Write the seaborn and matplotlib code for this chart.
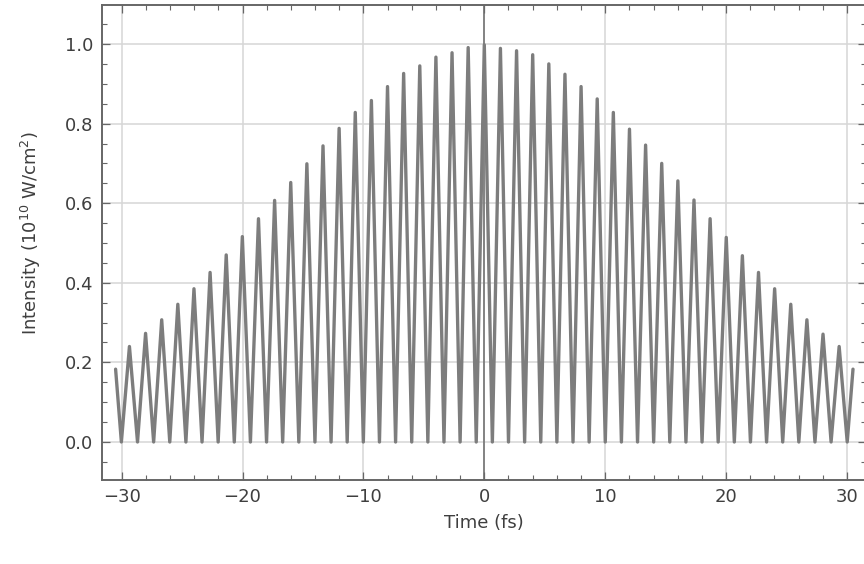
import numpy as np
import pandas as pd
import matplotlib
matplotlib.use("Agg")
import matplotlib.pyplot as plt
from matplotlib.ticker import MultipleLocator
import seaborn as sns

# ---- data ----
peak_times = [-29.355, -28.020, -26.686, -25.352, -24.017, -22.683, -21.349, -20.015,
              -18.680, -17.346, -16.012, -14.677, -13.343, -12.009, -10.674, -9.340,
              -8.006, -6.672, -5.337, -4.003, -2.669, -1.334, 0.0,
              1.334, 2.669, 4.003, 5.337, 6.672, 8.006, 9.340, 10.674, 12.009,
              13.343, 14.677, 16.012, 17.346, 18.680, 20.015, 21.349, 22.683,
              24.017, 25.352, 26.686, 28.020, 29.355]
peak_values = [0.240, 0.273, 0.307, 0.346, 0.385, 0.426, 0.470, 0.516,
               0.561, 0.607, 0.652, 0.699, 0.744, 0.788, 0.828, 0.858,
               0.893, 0.926, 0.945, 0.967, 0.978, 0.991, 0.998,
               0.989, 0.983, 0.973, 0.950, 0.924, 0.893, 0.862, 0.828, 0.786,
               0.746, 0.700, 0.656, 0.608, 0.561, 0.514, 0.468, 0.426,
               0.385, 0.346, 0.307, 0.271, 0.240]
trough_times = [-30.022, -28.687, -27.353, -26.019, -24.685, -23.350, -22.016, -20.682,
                -19.347, -18.013, -16.679, -15.344, -14.010, -12.676, -11.342, -10.007,
                -8.673, -7.339, -6.004, -4.670, -3.336, -2.001, -0.667,
                0.667, 2.001, 3.336, 4.670, 6.004, 7.339, 8.673, 10.007, 11.342,
                12.676, 14.010, 15.344, 16.679, 18.013, 19.347, 20.682, 22.016,
                23.350, 24.685, 26.019, 27.353, 28.687, 30.022]
trough_values = [0.0] * len(trough_times)
end_times = [-30.5, 30.5]
end_values = [0.183, 0.183]

x_ticks = [-30, -20, -10, 0, 10, 20, 30]
y_ticks = [0.0, 0.2, 0.4, 0.6, 0.8, 1.0]
x_label = "Time (fs)"
y_label = r"Intensity (10$^{10}$ W/cm$^{2}$)"

# ---- assemble the curve ----
df = pd.DataFrame({
    "t": end_times + peak_times + trough_times,
    "I": end_values + peak_values + trough_values,
}).sort_values("t").reset_index(drop=True)

sns.set_style("white")
plt.rcParams["font.family"] = ["DejaVu Sans"]
plt.rcParams["mathtext.fontset"] = "dejavusans"

fig = plt.figure(figsize=(8.64, 5.64), dpi=100)
W, H = 864, 564
l, r, t, b = 102.3, 866.3, 5, 480
ax = fig.add_axes([l / W, 1 - b / H, (r - l) / W, (b - t) / H])

ax.set_xlim(-31.6, 31.6)
ax.set_ylim(-0.0955, 1.098)

# grid and axis
ax.set_xticks(x_ticks)
ax.set_yticks(y_ticks)
ax.set_yticklabels([f"{v:.1f}" for v in y_ticks])
ax.set_xticklabels([f"\u2212{abs(v)}" if v < 0 else f"{v}" for v in x_ticks])
ax.xaxis.set_minor_locator(MultipleLocator(2))
ax.yaxis.set_minor_locator(MultipleLocator(0.05))
ax.grid(True, which="major", color="#d6d6d6", linewidth=1.1)
ax.set_axisbelow(True)
ax.axvline(0, color="#6a6a6a", linewidth=1.1, zorder=1.5)

sns.lineplot(data=df, x="t", y="I", ax=ax, sort=False, estimator=None,
             color="#7d7d7d", linewidth=2.4, solid_joinstyle="round", zorder=3)

for s in ax.spines.values():
    s.set_visible(True)
    s.set_color("#666666")
    s.set_linewidth(1.4)

fs = 13
tick_col = "#666666"
ax.tick_params(which="both", direction="in", top=True, right=True,
               bottom=True, left=True, color=tick_col)
ax.tick_params(which="major", length=6, width=0.9)
ax.tick_params(which="minor", length=3.5, width=0.8)
ax.tick_params(axis="both", which="major", labelsize=fs, labelcolor="#3f3f3f")
ax.tick_params(axis="y", which="major", pad=6.5)
ax.tick_params(axis="x", which="major", pad=5.5)

ax.set_xlabel(x_label, fontsize=fs, color="#3f3f3f")
ax.set_ylabel(y_label, fontsize=fs, color="#3f3f3f")
ax.xaxis.set_label_coords(0.5, -0.071)
ax.yaxis.set_label_coords(-0.077, 0.52)

fig.savefig("out.png", dpi=100)
